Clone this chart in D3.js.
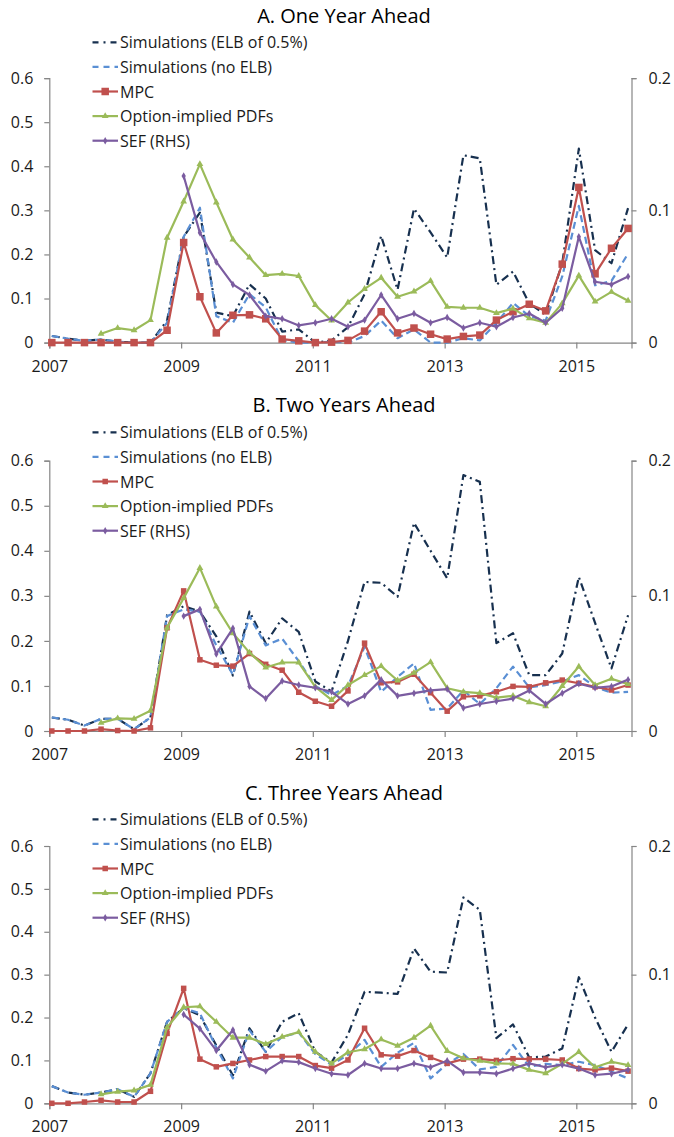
<!DOCTYPE html>
<html>
<head>
<meta charset="utf-8">
<script src="https://cdn.jsdelivr.net/npm/d3@7"></script>
<style>
  body { margin: 0; background: #fff; }
  svg { display: block; font-family: "Open Sans", sans-serif; }
</style>
</head>
<body>
<svg id="chart" width="674" height="1137"></svg>
<script>
// quarters 2007Q1 .. 2015Q4
const quarters = d3.range(36).map(i => new Date(2007 + Math.floor(i / 4), (i % 4) * 3, 15))
const yearTicks = [2007, 2009, 2011, 2013, 2015]
const leftTicks = [0, 0.1, 0.2, 0.3, 0.4, 0.5, 0.6]
const rightTicks = [0, 0.1, 0.2]
const seriesNames = ['Simulations (ELB of 0.5%)', 'Simulations (no ELB)', 'MPC', 'Option-implied PDFs', 'SEF (RHS)']
const panelTitles = ['A. One Year Ahead', 'B. Two Years Ahead', 'C. Three Years Ahead']

// A. one year ahead
const elbA = [0.015, 0.009, 0.004, 0.007, 0.002, 0, 0, 0.05, 0.24, 0.295, 0.068, 0.06, 0.132, 0.10, 0.025, 0.03, 0, 0.005, 0.035, 0.11, 0.242, 0.12, 0.304, 0.25, 0.193, 0.425, 0.418, 0.131, 0.161, 0.089, 0.063, 0.18, 0.44, 0.21, 0.18, 0.305]
const noElbA = [0.015, 0.009, 0.004, 0.007, 0.002, 0, 0, 0.045, 0.24, 0.306, 0.06, 0.045, 0.11, 0.08, 0.005, 0, 0, 0.002, 0, 0.015, 0.05, 0.01, 0.03, 0, 0, 0.01, 0.005, 0.045, 0.09, 0.06, 0.05, 0.15, 0.31, 0.13, 0.14, 0.202]
const mpcA = [0, 0, 0, 0, 0, 0, 0, 0.028, 0.227, 0.104, 0.022, 0.062, 0.063, 0.054, 0.008, 0.004, 0, 0.001, 0.005, 0.026, 0.070, 0.022, 0.033, 0.019, 0.008, 0.014, 0.017, 0.051, 0.070, 0.087, 0.072, 0.178, 0.352, 0.156, 0.214, 0.259]
const optA = [null, null, null, 0.020, 0.033, 0.028, 0.051, 0.238, 0.32, 0.405, 0.318, 0.234, 0.193, 0.153, 0.156, 0.151, 0.085, 0.050, 0.091, 0.122, 0.147, 0.104, 0.116, 0.140, 0.081, 0.079, 0.079, 0.067, 0.077, 0.055, 0.045, 0.089, 0.152, 0.093, 0.115, 0.095]
const sefA = [null, null, null, null, null, null, null, null, 0.126, 0.083, 0.061, 0.044, 0.036, 0.020, 0.018, 0.013, 0.015, 0.018, 0.012, 0.017, 0.036, 0.018, 0.022, 0.015, 0.019, 0.011, 0.015, 0.012, 0.019, 0.022, 0.015, 0.026, 0.080, 0.046, 0.044, 0.050]

// B. two years ahead
const elbB = [0.03, 0.025, 0.012, 0.027, 0.027, 0.004, 0.03, 0.257, 0.277, 0.265, 0.21, 0.123, 0.265, 0.195, 0.25, 0.22, 0.11, 0.088, 0.2, 0.331, 0.329, 0.298, 0.462, 0.40, 0.339, 0.568, 0.553, 0.195, 0.217, 0.124, 0.124, 0.172, 0.342, 0.24, 0.139, 0.257]
const noElbB = [0.03, 0.025, 0.012, 0.027, 0.027, 0.004, 0.03, 0.255, 0.27, 0.265, 0.19, 0.125, 0.255, 0.19, 0.205, 0.155, 0.10, 0.08, 0.10, 0.187, 0.087, 0.12, 0.150, 0.047, 0.05, 0.09, 0.06, 0.095, 0.143, 0.097, 0.102, 0.11, 0.124, 0.098, 0.085, 0.087]
const mpcB = [0, 0, 0, 0.004, 0.001, 0, 0.007, 0.229, 0.311, 0.158, 0.146, 0.144, 0.172, 0.148, 0.135, 0.086, 0.066, 0.055, 0.089, 0.195, 0.107, 0.109, 0.126, 0.085, 0.044, 0.076, 0.078, 0.087, 0.099, 0.098, 0.107, 0.113, 0.106, 0.098, 0.091, 0.102]
const optB = [null, null, null, 0.018, 0.028, 0.027, 0.045, 0.229, 0.295, 0.362, 0.276, 0.217, 0.174, 0.141, 0.152, 0.152, 0.098, 0.069, 0.102, 0.124, 0.144, 0.112, 0.129, 0.153, 0.095, 0.087, 0.084, 0.074, 0.078, 0.064, 0.055, 0.10, 0.143, 0.102, 0.116, 0.104]
const sefB = [null, null, null, null, null, null, null, null, 0.085, 0.090, 0.057, 0.076, 0.033, 0.024, 0.037, 0.034, 0.032, 0.029, 0.020, 0.026, 0.038, 0.026, 0.028, 0.030, 0.031, 0.017, 0.020, 0.022, 0.024, 0.030, 0.020, 0.028, 0.035, 0.032, 0.033, 0.038]

// C. three years ahead
const elbC = [0.04, 0.025, 0.02, 0.025, 0.033, 0.015, 0.07, 0.19, 0.222, 0.205, 0.135, 0.065, 0.175, 0.12, 0.19, 0.21, 0.12, 0.095, 0.16, 0.26, 0.258, 0.255, 0.361, 0.307, 0.305, 0.480, 0.451, 0.152, 0.184, 0.107, 0.109, 0.128, 0.294, 0.20, 0.120, 0.184]
const noElbC = [0.04, 0.025, 0.02, 0.025, 0.033, 0.015, 0.07, 0.19, 0.222, 0.21, 0.13, 0.058, 0.17, 0.12, 0.155, 0.165, 0.115, 0.09, 0.113, 0.148, 0.085, 0.118, 0.141, 0.058, 0.092, 0.115, 0.079, 0.085, 0.136, 0.085, 0.092, 0.089, 0.097, 0.089, 0.074, 0.058]
const mpcC = [0, 0, 0.003, 0.007, 0.003, 0.003, 0.028, 0.163, 0.268, 0.103, 0.085, 0.093, 0.101, 0.109, 0.109, 0.109, 0.088, 0.082, 0.101, 0.175, 0.113, 0.110, 0.123, 0.107, 0.093, 0.103, 0.103, 0.100, 0.104, 0.103, 0.103, 0.101, 0.081, 0.078, 0.082, 0.075]
const optC = [null, null, null, 0.021, 0.027, 0.030, 0.043, 0.177, 0.224, 0.226, 0.190, 0.153, 0.153, 0.138, 0.155, 0.166, 0.120, 0.093, 0.119, 0.126, 0.149, 0.134, 0.153, 0.181, 0.122, 0.105, 0.099, 0.093, 0.092, 0.078, 0.070, 0.092, 0.120, 0.084, 0.097, 0.089]
const sefC = [null, null, null, null, null, null, null, null, 0.069, 0.058, 0.041, 0.057, 0.030, 0.025, 0.033, 0.032, 0.027, 0.023, 0.022, 0.031, 0.027, 0.027, 0.031, 0.028, 0.033, 0.024, 0.024, 0.023, 0.027, 0.031, 0.028, 0.030, 0.027, 0.022, 0.023, 0.026]

const svg = d3.select('#chart')

const x = d3.scaleTime()
    .domain([new Date(2007, 0, 1), new Date(2015, 10, 3)])
    .range([49.3, 631.5])

const styles = [
    { color: '#17304f', dash: '8,4,2,4', marker: null },
    { color: '#5a8fd4', dash: '7,4', marker: null },
    { color: '#c0504d', dash: null, marker: 'square' },
    { color: '#9bbb59', dash: null, marker: 'triangle' },
    { color: '#7b5ca0', dash: null, marker: 'diamond' }
]

// layout for each panel (plot top/bottom, title, first legend row, square size)
const panels = [
    { title: panelTitles[0], top: 78.1, bottom: 342.6, titleY: 15, legendY: 42.3, sq: 7.5, data: [elbA, noElbA, mpcA, optA, sefA] },
    { title: panelTitles[1], top: 460.7, bottom: 731, titleY: 404.3, legendY: 432.3, sq: 5.5, data: [elbB, noElbB, mpcB, optB, sefB] },
    { title: panelTitles[2], top: 846, bottom: 1103.3, titleY: 792.3, legendY: 819.3, sq: 5.5, data: [elbC, noElbC, mpcC, optC, sefC] }
]

function drawMarker(g, kind, cx, cy, color, sq) {
    if (kind === 'square') {
        g.append('rect')
            .attr('x', cx - sq / 2).attr('y', cy - sq / 2)
            .attr('width', sq).attr('height', sq)
            .attr('fill', color)
    } else if (kind === 'triangle') {
        g.append('path')
            .attr('transform', `translate(${cx},${cy})`)
            .attr('d', d3.symbol(d3.symbolTriangle, 20)())
            .attr('fill', color)
    } else if (kind === 'diamond') {
        g.append('path')
            .attr('transform', `translate(${cx},${cy})`)
            .attr('d', d3.symbol(d3.symbolDiamond, 16)())
            .attr('fill', color)
    }
}

function drawPanel(p) {
    const g = svg.append('g')
    const yL = d3.scaleLinear().domain([0, 0.6]).range([p.bottom, p.top])
    const yR = d3.scaleLinear().domain([0, 0.2]).range([p.bottom, p.top])

    g.append('text')
        .attr('x', 344).attr('y', p.titleY)
        .attr('text-anchor', 'middle').attr('dominant-baseline', 'central')
        .attr('font-size', 20).attr('fill', '#000')
        .text(p.title)

    // axes
    const axisColor = '#868686'
    const left = g.append('g').attr('transform', `translate(${x.range()[0]},0)`)
        .call(d3.axisLeft(yL).tickValues(leftTicks).tickSize(5).tickPadding(11)
            .tickFormat(d => d === 0 ? '0' : d3.format('.1f')(d)))
    const right = g.append('g').attr('transform', `translate(${x.range()[1]},0)`)
        .call(d3.axisRight(yR).tickValues(rightTicks).tickSize(5).tickPadding(12)
            .tickFormat(d => d === 0 ? '0' : d3.format('.1f')(d)))
    const bottom = g.append('g').attr('transform', `translate(0,${p.bottom})`)
        .call(d3.axisBottom(x).tickValues(yearTicks.map(yr => new Date(yr, 0, 1))).tickSize(6)
            .tickFormat(d3.timeFormat('%Y')))
    ;[left, right, bottom].forEach(a => {
        a.selectAll('path.domain').attr('stroke', axisColor).attr('stroke-width', 1.2)
        a.selectAll('.tick line').attr('stroke', axisColor).attr('stroke-width', 1.2)
        a.selectAll('.tick text').attr('font-size', 16).attr('fill', '#1a1a1a')
            .attr('font-family', '"Open Sans", sans-serif')
    })
    // year labels centred a fixed distance under the axis
    bottom.selectAll('.tick text')
        .attr('y', 23).attr('dy', null)
        .attr('dominant-baseline', 'central')

    // series
    p.data.forEach((values, s) => {
        const st = styles[s]
        const y = s === 4 ? yR : yL
        const pts = values.map((v, i) => ({ date: quarters[i], v })).filter(d => d.v != null)
        const line = d3.line().x(d => x(d.date)).y(d => y(d.v))
        g.append('path')
            .attr('d', line(pts))
            .attr('fill', 'none')
            .attr('stroke', st.color)
            .attr('stroke-width', 2.2)
            .attr('stroke-linejoin', 'round')
            .attr('stroke-dasharray', st.dash)
        if (st.marker) {
            const mg = g.append('g')
            pts.forEach(d => drawMarker(mg, st.marker, x(d.date), y(d.v), st.color, p.sq))
        }
    })

    // legend
    seriesNames.forEach((name, s) => {
        const st = styles[s]
        const ly = p.legendY + s * 24.6
        g.append('line')
            .attr('x1', 92.5).attr('x2', 118)
            .attr('y1', ly).attr('y2', ly)
            .attr('stroke', st.color).attr('stroke-width', 2.2)
            .attr('stroke-dasharray', s === 0 ? '6,5,2,5' : st.dash ? '6,5' : null)
        if (st.marker) drawMarker(g, st.marker, 105.2, ly, st.color, p.sq)
        g.append('text')
            .attr('x', 120).attr('y', ly)
            .attr('dominant-baseline', 'central')
            .attr('font-size', 16).attr('fill', '#1a1a1a')
            .text(name)
    })
}

panels.forEach(drawPanel)
</script>
</body>
</html>
